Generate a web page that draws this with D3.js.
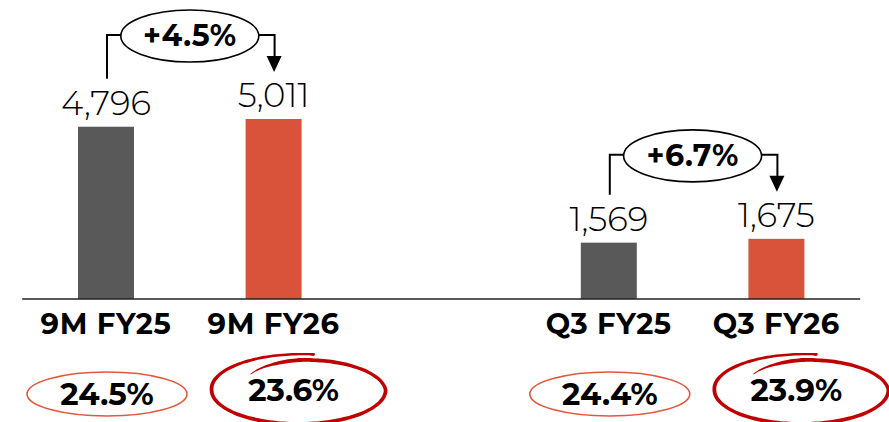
<!DOCTYPE html>
<html lang="en">
<head>
<meta charset="utf-8">
<title>9M / Q3 FY26 bar chart</title>
<script src="https://d3js.org/d3.v7.min.js"></script>
<style>
  body { margin: 0; background: #fff; }
  svg text { font-family: Montserrat, "Open Sans", sans-serif; fill: #000; }
  .val { font-size: 34px; font-weight: 300; }
  .cat { font-size: 29px; font-weight: 700; letter-spacing: 0.6px; }
  .pct { font-size: 31px; font-weight: 700; }
  .grow { font-size: 30px; font-weight: 700; letter-spacing: 0.5px; }
</style>
</head>
<body>
<script>
// data
var categories = ["9M FY25", "9M FY26", "Q3 FY25", "Q3 FY26"];
var values = [4796, 5011, 1569, 1675];
var margins = ["24.5%", "23.6%", "24.4%", "23.9%"];
var isCurrent = [false, true, false, true];
var growth = ["+4.5%", "+6.7%"];   // FY25 -> FY26 within each pair

var W = 889, H = 422;
var base = 299;
var grey = "#595959", orange = "#D9533A", thinRing = "#E2583E", darkRed = "#C00000";

var svg = d3.select("body").append("svg").attr("width", W).attr("height", H);

// a blank slot keeps the two pairs apart
var slots = [categories[0], categories[1], "gap", categories[2], categories[3]];
var x = d3.scaleBand().domain(slots).range([22.2, 860.2])
    .paddingInner(0.666).paddingOuter(0.333);
var y = d3.scaleLinear().domain([0, d3.max(values)]).range([base, base - 180]);

var data = categories.map(function(c, i) {
  return { cat: c, v: values[i], m: margins[i], cur: isCurrent[i], cx: x(c) + x.bandwidth() / 2 };
});

// bars
svg.selectAll("rect.bar").data(data).enter().append("rect")
  .attr("class", "bar")
  .attr("x", function(d) { return x(d.cat); })
  .attr("width", x.bandwidth())
  .attr("y", function(d) { return y(d.v); })
  .attr("height", function(d) { return base - y(d.v); })
  .attr("fill", function(d) { return d.cur ? orange : grey; });

// baseline
svg.append("line").attr("x1", x.range()[0]).attr("x2", x.range()[1])
  .attr("y1", base).attr("y2", base).attr("stroke", "#222").attr("stroke-width", 1.5);

// value labels
svg.selectAll("text.val").data(data).enter().append("text")
  .attr("class", "val").attr("text-anchor", "middle")
  .attr("x", function(d) { return d.cx; })
  .attr("y", function(d) { return y(d.v) - 12; })
  .text(function(d) { return d3.format(",")(d.v); });

// category labels
svg.selectAll("text.cat").data(data).enter().append("text")
  .attr("class", "cat").attr("text-anchor", "middle")
  .attr("x", function(d) { return d.cx; })
  .attr("y", 334)
  .text(function(d) { return d.cat; });

// margin rings: thin ellipse for last year, hand drawn loop for this year
function handLoop(cx, cy, rx, ry) {
  var s = d3.scaleLinear().domain([-140, -90, 0, 180, 280]).range([0.72, 0.88, 1.0, 1.0, 1.06]);
  var h = d3.scaleLinear().domain([-140, -100, 200, 280]).range([0.3, 1.9, 1.9, 1.1]);
  var outer = [], inner = [];
  for (var a = -140; a <= 280; a += 4) {
    var t = a * Math.PI / 180, k = s(a), w = h(a);
    outer.push([cx + (k * rx + w) * Math.cos(t), cy + (k * ry + w) * Math.sin(t)]);
    inner.push([cx + (k * rx - w) * Math.cos(t), cy + (k * ry - w) * Math.sin(t)]);
  }
  return d3.line().curve(d3.curveCatmullRom)(outer.concat(inner.reverse())) + "Z";
}

data.forEach(function(d) {
  if (d.cur) {
    svg.append("path").attr("d", handLoop(d.cx + 25, 390, 87, 34)).attr("fill", darkRed);
  } else {
    svg.append("ellipse").attr("cx", d.cx + 1).attr("cy", 394).attr("rx", 80).attr("ry", 22)
      .attr("fill", "none").attr("stroke", thinRing).attr("stroke-width", 1.6);
  }
});

svg.selectAll("text.pct").data(data).enter().append("text")
  .attr("class", "pct").attr("text-anchor", "middle")
  .attr("x", function(d) { return d.cx + (d.cur ? 20 : 1); })
  .attr("y", function(d) { return d.cur ? 401 : 405; })
  .text(function(d) { return d.m; });

// growth callouts between each pair
growth.forEach(function(g, i) {
  var a = data[i * 2], b = data[i * 2 + 1];
  var top = y(Math.max(a.v, b.v)) - 84;
  var mx = (a.cx + b.cx) / 2;
  var rx = 69, ry = 26;
  var gg = svg.append("g").attr("fill", "none").attr("stroke", "#000").attr("stroke-width", 2);
  gg.append("path").attr("d", "M" + (a.cx + 1) + "," + (y(a.v) - 48) + "V" + top + "H" + (mx - rx));
  gg.append("path").attr("d", "M" + (mx + rx) + "," + top + "H" + (b.cx + 1) + "V" + (y(b.v) - 55));
  gg.append("path").attr("d", "M" + (b.cx - 7) + "," + (y(b.v) - 63) + "L" + (b.cx + 8) + "," + (y(b.v) - 63) +
      "L" + (b.cx + 0.5) + "," + (y(b.v) - 47) + "Z").attr("fill", "#000").attr("stroke", "none");
  gg.append("ellipse").attr("cx", mx).attr("cy", top + 1).attr("rx", rx).attr("ry", ry)
    .attr("fill", "#fff").attr("stroke-width", 1.6);
  svg.append("text").attr("class", "grow").attr("text-anchor", "middle")
    .attr("x", mx).attr("y", top + 11).text(g);
});
</script>
</body>
</html>
